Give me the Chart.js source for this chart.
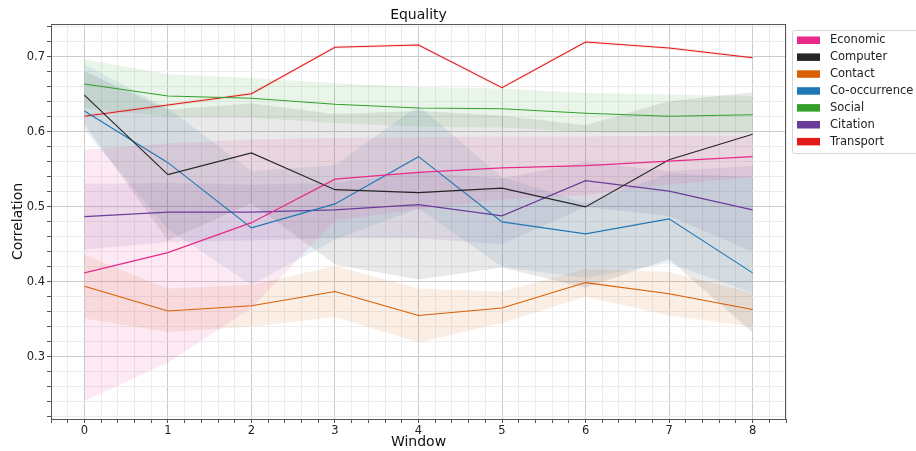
<!DOCTYPE html>
<html>
<head>
<meta charset="utf-8">
<script src="https://cdn.jsdelivr.net/npm/chart.js@4/dist/chart.umd.min.js"></script>
<style>
html,body{margin:0;padding:0;background:#fff;}
#wrap{width:916px;height:451px;position:relative;}
</style>
</head>
<body>
<div id="wrap"><canvas id="c" width="916" height="451"></canvas></div>
<script>
const windows = [0, 1, 2, 3, 4, 5, 6, 7, 8];
const seriesNames = ["Economic", "Computer", "Contact", "Co-occurrence", "Social", "Citation", "Transport"];
const seriesColors = ["#e7298a", "#252525", "#d95f02", "#1f78b4", "#33a02c", "#6a3d9a", "#e31a1c"];

const economicMean  = [0.412, 0.439, 0.479, 0.537, 0.546, 0.552, 0.555, 0.561, 0.567];
const economicUpper = [0.576, 0.585, 0.590, 0.592, 0.593, 0.594, 0.594, 0.595, 0.595];
const economicLower = [0.241, 0.292, 0.365, 0.482, 0.497, 0.510, 0.516, 0.530, 0.540];

const computerMean  = [0.649, 0.543, 0.572, 0.523, 0.519, 0.525, 0.500, 0.563, 0.597];
const computerUpper = [0.681, 0.630, 0.638, 0.624, 0.628, 0.622, 0.609, 0.641, 0.653];
const computerLower = [0.610, 0.455, 0.505, 0.423, 0.403, 0.419, 0.392, 0.430, 0.332];

const contactMean  = [0.394, 0.361, 0.368, 0.387, 0.355, 0.365, 0.399, 0.384, 0.363];
const contactUpper = [0.436, 0.391, 0.396, 0.421, 0.391, 0.387, 0.417, 0.413, 0.385];
const contactLower = [0.351, 0.333, 0.340, 0.353, 0.319, 0.345, 0.380, 0.355, 0.340];

const coocMean  = [0.628, 0.559, 0.472, 0.504, 0.567, 0.480, 0.464, 0.484, 0.412];
const coocUpper = [0.690, 0.632, 0.548, 0.556, 0.635, 0.540, 0.505, 0.545, 0.540];
const coocLower = [0.603, 0.470, 0.396, 0.456, 0.498, 0.420, 0.405, 0.425, 0.385];

const socialMean  = [0.664, 0.648, 0.645, 0.637, 0.632, 0.631, 0.625, 0.621, 0.623];
const socialUpper = [0.697, 0.677, 0.672, 0.665, 0.660, 0.658, 0.652, 0.650, 0.648];
const socialLower = [0.632, 0.620, 0.619, 0.612, 0.607, 0.606, 0.600, 0.598, 0.598];

const citationMean  = [0.487, 0.493, 0.493, 0.496, 0.503, 0.488, 0.535, 0.521, 0.496];
const citationUpper = [0.531, 0.532, 0.530, 0.532, 0.546, 0.538, 0.560, 0.548, 0.555];
const citationLower = [0.443, 0.453, 0.455, 0.458, 0.458, 0.450, 0.500, 0.488, 0.440];

const transportMean  = [0.621, 0.636, 0.651, 0.713, 0.716, 0.659, 0.720, 0.712, 0.699];
const transportUpper = [0.623, 0.638, 0.653, 0.715, 0.718, 0.661, 0.722, 0.714, 0.701];
const transportLower = [0.619, 0.634, 0.649, 0.711, 0.714, 0.657, 0.718, 0.710, 0.697];

const xTickLabels = ["0", "1", "2", "3", "4", "5", "6", "7", "8"];
const yTickLabels = ["0.3", "0.4", "0.5", "0.6", "0.7"];

const means  = [economicMean, computerMean, contactMean, coocMean, socialMean, citationMean, transportMean];
const uppers = [economicUpper, computerUpper, contactUpper, coocUpper, socialUpper, citationUpper, transportUpper];
const lowers = [economicLower, computerLower, contactLower, coocLower, socialLower, citationLower, transportLower];

function pts(arr){ return arr.map((v,i)=>({x: windows[i], y: v})); }
function hexA(hex, a){
  const n = parseInt(hex.slice(1),16);
  return `rgba(${(n>>16)&255},${(n>>8)&255},${n&255},${a})`;
}

const datasets = [];
seriesNames.forEach((name, i) => {
  datasets.push({label: name + " upper", data: pts(uppers[i]), borderWidth: 0, pointRadius: 0, fill: false, order: 10, borderColor: 'rgba(0,0,0,0)'});
  datasets.push({label: name + " lower", data: pts(lowers[i]), borderWidth: 0, pointRadius: 0, fill: '-1', backgroundColor: hexA(seriesColors[i], 0.1), order: 10, borderColor: 'rgba(0,0,0,0)'});
});
seriesNames.forEach((name, i) => {
  datasets.push({label: name, data: pts(means[i]), borderColor: seriesColors[i], backgroundColor: seriesColors[i], borderWidth: 1.1, pointRadius: 0, fill: false, tension: 0, order: 0});
});

const FONT = "'DejaVu Sans', sans-serif";

const framePlugin = {
  id: 'frame',
  afterDraw(chart){
    const {ctx, chartArea: a} = chart;
    ctx.save();
    ctx.strokeStyle = '#555';
    ctx.lineWidth = 1;
    ctx.beginPath();
    ctx.moveTo(a.left, a.top + 0.5); ctx.lineTo(a.right, a.top + 0.5);
    ctx.moveTo(a.right - 0.5, a.top); ctx.lineTo(a.right - 0.5, a.bottom);
    ctx.stroke();
    // title
    ctx.fillStyle = '#111';
    ctx.font = "14px " + FONT;
    ctx.textAlign = 'center';
    ctx.textBaseline = 'middle';
    ctx.fillText('Equality', (a.left + a.right) / 2, 15.5);
    // legend
    const lx = 792, ly = 30, lw = 130, lh = 123;
    ctx.fillStyle = 'rgba(255,255,255,0.85)';
    ctx.strokeStyle = '#d6d6d6';
    ctx.beginPath();
    if (ctx.roundRect) ctx.roundRect(lx + 0.5, ly + 0.5, lw, lh, 2); else ctx.rect(lx + 0.5, ly + 0.5, lw, lh);
    ctx.fill(); ctx.stroke();
    ctx.font = "11.5px " + FONT;
    ctx.textAlign = 'left';
    seriesNames.forEach((name, i) => {
      const y = 40 + i * 16.9;
      ctx.fillStyle = seriesColors[i];
      ctx.fillRect(797, y - 3.5, 23, 7.5);
      ctx.fillStyle = '#222';
      ctx.fillText(name, 830, y + 0.5);
    });
    ctx.restore();
  }
};

function isInt(v){ return Math.abs(v - Math.round(v)) < 1e-6; }
function isTenth(v){ return Math.abs(v*10 - Math.round(v*10)) < 1e-6; }

new Chart(document.getElementById('c'), {
  type: 'line',
  data: { datasets },
  options: {
    responsive: false,
    animation: false,
    devicePixelRatio: 1,
    layout: { padding: { top: 24, right: 130, bottom: 0, left: 0 } },
    plugins: { legend: { display: false }, tooltip: { enabled: false }, title: { display: false } },
    scales: {
      x: {
        type: 'linear', min: -0.4, max: 8.4,
        afterFit(s){ s.height = 32; },
        ticks: {
          stepSize: 0.2, autoSkip: false, maxRotation: 0, padding: 1,
          color: '#222', font: { size: 11.5, family: FONT },
          callback(v){ if (isInt(v)) { const k = Math.round(v); return (k >= 0 && k < xTickLabels.length) ? xTickLabels[k] : ''; } return ''; }
        },
        grid: {
          color: (c) => (c.tick && isInt(c.tick.value)) ? '#cccccc' : '#ececec',
          tickColor: '#555', tickLength: 4, lineWidth: 1
        },
        border: { color: '#555', width: 1 },
        title: { display: true, text: 'Window', color: '#111', font: { size: 14, family: FONT }, padding: { top: 0, bottom: 0 } }
      },
      y: {
        type: 'linear', min: 0.217, max: 0.744,
        afterFit(s){ s.width = 51; },
        ticks: {
          stepSize: 0.02, includeBounds: false, autoSkip: false, padding: 2,
          color: '#222', font: { size: 11.5, family: FONT },
          callback(v){ if (isTenth(v)) { const s = v.toFixed(1); return yTickLabels.includes(s) ? s : ''; } return ''; }
        },
        grid: {
          color: (c) => (c.tick && isTenth(c.tick.value)) ? '#cccccc' : '#ececec',
          tickColor: '#555', tickLength: 4, lineWidth: 1
        },
        border: { color: '#555', width: 1 },
        title: { display: true, text: 'Correlation', color: '#111', font: { size: 14, family: FONT }, padding: { top: 10, bottom: 0 } }
      }
    }
  },
  plugins: [framePlugin]
});
</script>
</body>
</html>
